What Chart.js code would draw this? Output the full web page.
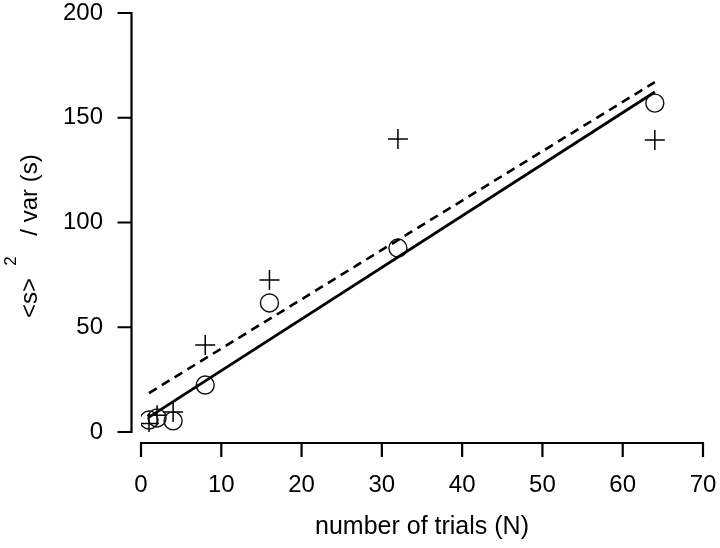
<!DOCTYPE html>
<html lang="en">
  <head>
    <meta charset="UTF-8" />
    <title>Fano factor vs number of trials</title>
    <script src="https://cdn.jsdelivr.net/npm/chart.js"></script>
    <style>
      html, body { margin: 0; padding: 0; background: #fff; }
      #wrap { width: 720px; height: 548px; }
    </style>
  </head>
  <body>
    <div id="wrap"><canvas id="trialsChart"></canvas></div>

    <script>
      // number of trials
      const trials = [1, 2, 4, 8, 16, 32, 64];
      // open circles
      const circleVals = [5.7, 6.7, 5.3, 22.4, 61.6, 87.8, 157];
      // plus markers
      const plusVals = [4, 8, 9.5, 41.5, 72.6, 139.9, 139.4];
      // fitted lines (end points)
      const fitX = [1, 64];
      const solidFit = [7.1, 162.3];
      const dashedFit = [18.6, 167];

      const xTicks = [0, 10, 20, 30, 40, 50, 60, 70];
      const yTicks = [0, 50, 100, 150, 200];

      const font = "'Liberation Sans', Arial, sans-serif";

      const pairs = (xs, ys) => xs.map((x, i) => ({ x: x, y: ys[i] }));

      // axes drawn offset from the plot area, like the original figure
      const axesPlugin = {
        id: "offsetAxes",
        afterDraw(chart) {
          const ctx = chart.ctx;
          const xs = chart.scales.x;
          const ys = chart.scales.y;
          const area = chart.chartArea;
          const axX = area.left - 9.5;
          const axY = area.bottom + 11;
          ctx.save();
          ctx.strokeStyle = "#000";
          ctx.lineWidth = 2.2;
          ctx.lineCap = "butt";

          // y axis
          ctx.beginPath();
          ctx.moveTo(axX, ys.getPixelForValue(0) + 1);
          ctx.lineTo(axX, ys.getPixelForValue(200) - 1);
          yTicks.forEach((v) => {
            const py = ys.getPixelForValue(v);
            ctx.moveTo(axX + 1, py);
            ctx.lineTo(axX - 14, py);
          });
          ctx.stroke();

          // x axis
          ctx.beginPath();
          ctx.moveTo(xs.getPixelForValue(0) - 1, axY);
          ctx.lineTo(xs.getPixelForValue(70) + 1, axY);
          xTicks.forEach((v) => {
            const px = xs.getPixelForValue(v);
            ctx.moveTo(px, axY - 1);
            ctx.lineTo(px, axY + 14);
          });
          ctx.stroke();

          // y title: <s>^2 / var (s)
          ctx.fillStyle = "#000";
          ctx.translate(37, 0);
          ctx.rotate(-Math.PI / 2);
          ctx.textBaseline = "alphabetic";
          ctx.textAlign = "center";
          ctx.font = "24px " + font;
          ctx.fillText("<s>", -298, 0);
          ctx.fillText("/ var (s)", -195, 0);
          ctx.font = "17px " + font;
          ctx.fillText("2", -261, -21);
          ctx.restore();
        },
      };

      const clearGrid = (len) => ({
        display: true,
        drawOnChartArea: false,
        drawTicks: true,
        tickLength: len,
        tickColor: "rgba(0,0,0,0)",
      });

      new Chart(document.getElementById("trialsChart"), {
        type: "scatter",
        data: {
          datasets: [
            {
              label: "dashed fit",
              data: pairs(fitX, dashedFit),
              showLine: true,
              borderColor: "#000",
              borderWidth: 2.6,
              borderDash: [9, 6],
              pointRadius: 0,
            },
            {
              label: "solid fit",
              data: pairs(fitX, solidFit),
              showLine: true,
              borderColor: "#000",
              borderWidth: 2.8,
              pointRadius: 0,
            },
            {
              label: "circles",
              data: pairs(trials, circleVals),
              pointStyle: "circle",
              pointRadius: 9,
              pointBorderWidth: 1.4,
              pointBorderColor: "#111",
              pointBackgroundColor: "rgba(0,0,0,0)",
            },
            {
              label: "plus",
              data: pairs(trials, plusVals),
              pointStyle: "cross",
              pointRadius: 10,
              pointBorderWidth: 1.5,
              pointBorderColor: "#000",
            },
          ],
        },
        options: {
          responsive: true,
          maintainAspectRatio: false,
          animation: false,
          layout: { padding: { top: 13, right: 17, left: 0, bottom: 0 } },
          plugins: {
            legend: { display: false },
            tooltip: { enabled: false },
          },
          scales: {
            x: {
              type: "linear",
              min: 0,
              max: 70,
              grid: clearGrid(37),
              border: { display: false },
              ticks: {
                stepSize: 10,
                padding: 2,
                maxRotation: 0,
                color: "#000",
                font: { family: font, size: 24 },
              },
              title: {
                display: true,
                text: "number of trials (N)",
                color: "#000",
                font: { family: font, size: 25 },
                padding: { top: 0, bottom: 6 },
              },
              afterFit: (s) => {
                s.height = 116;
                s.paddingLeft = 0;
                s.paddingRight = 0;
              },
            },
            y: {
              min: 0,
              max: 200,
              grid: clearGrid(36),
              border: { display: false },
              ticks: {
                stepSize: 50,
                padding: 2,
                color: "#000",
                font: { family: font, size: 24 },
              },
              afterFit: (s) => {
                s.width = 141;
                s.paddingTop = 0;
                s.paddingBottom = 0;
              },
            },
          },
        },
        plugins: [axesPlugin],
      });
    </script>
  </body>
</html>
